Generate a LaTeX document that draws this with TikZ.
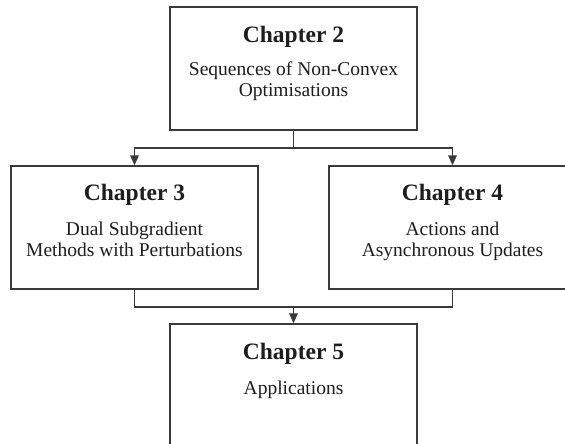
\documentclass[tikz,border=0pt]{standalone}
\usepackage{fontspec}
\setmainfont{Liberation Serif}
\usetikzlibrary{arrows.meta}
\definecolor{linec}{HTML}{3A3A3A}
\definecolor{textc}{HTML}{1E1E1E}
\tikzset{
  box/.style={draw=linec, line width=1.3pt, rectangle, minimum width=247pt, minimum height=123pt, inner sep=0pt},
  title/.style={anchor=base, inner sep=0pt, text=textc, font=\fontsize{23.5}{26}\selectfont\bfseries},
  body/.style={anchor=base, inner sep=0pt, align=center, text=textc, font=\fontsize{19.5}{21}\selectfont},
  conn/.style={draw=linec, line width=1.3pt},
  arr/.style={conn, -{Triangle[length=10pt,width=8.5pt]}}
}
\begin{document}
\begin{tikzpicture}[x=1pt,y=-1pt]
\useasboundingbox (0,0) rectangle (565,444);
\clip (0,0) rectangle (565,444);
\fill[white] (0,0) rectangle (565,444);
% boxes
\node[box] (c2) at (293.5,68.5) {};
\node[box] (c3) at (134.5,227.5) {};
\node[box] (c4) at (452.5,227.5) {};
\node[box] (c5) at (293.5,385.5) {};
% texts
\node[title] (t2) at ([yshift=-35.7pt]c2.north) {Chapter 2};
\node[body] (b2) at ([yshift=-90.5pt]c2.north) {Sequences of Non-Convex\\Optimisations};
\node[title] (t3) at ([yshift=-35pt]c3.north) {Chapter 3};
\node[body] (b3) at ([yshift=-91pt]c3.north) {Dual Subgradient\\Methods with Perturbations};
\node[title] (t4) at ([yshift=-35pt]c4.north) {Chapter 4};
\node[body] (b4) at ([yshift=-91pt]c4.north) {Actions and\\Asynchronous Updates};
\node[title] (t5) at ([yshift=-36pt]c5.north) {Chapter 5};
\node[body] (b5) at ([yshift=-71pt]c5.north) {Applications};
% connectors
\coordinate (split) at (293.5,148);
\coordinate (merge) at (293.5,307);
\draw[conn] (c2.south) -- (split);
\draw[arr] (split) -| (c3.north);
\draw[arr] (split) -| (c4.north);
\draw[conn] (c3.south) |- (merge);
\draw[conn] (c4.south) |- (merge);
\draw[arr] (merge) -- (c5.north);
\end{tikzpicture}
\end{document}
